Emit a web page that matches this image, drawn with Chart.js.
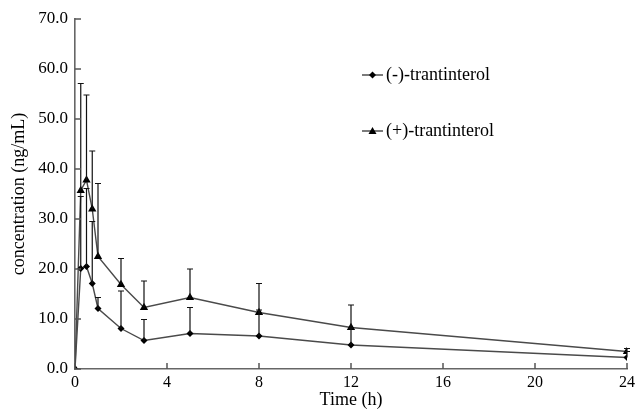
<!DOCTYPE html>
<html lang="en">
<head>
  <meta charset="UTF-8">
  <title>Trantinterol concentration</title>
  <script src="https://cdn.jsdelivr.net/npm/chart.js"></script>
  <style>
    html, body {
      margin: 0;
      padding: 0;
      background: #fff;
    }
    #grafico-container {
      width: 639px;
      height: 412px;
    }
  </style>
</head>
<body>
  <div id="grafico-container">
    <canvas id="grafico"></canvas>
  </div>

  <script>
    // time points (h)
    const times = [0, 0.25, 0.5, 0.75, 1, 2, 3, 5, 8, 12, 24];
    // (-)-trantinterol mean and SD (ng/mL)
    const minusConc = [0, 20.1, 20.5, 17.1, 12.1, 8.1, 5.7, 7.1, 6.6, 4.8, 2.3];
    const minusSd = [0, 14.4, 15.6, 12.4, 2.2, 7.5, 4.2, 5.2, 5.2, 3.4, 1.2];
    // (+)-trantinterol mean and SD (ng/mL)
    const plusConc = [0, 35.7, 37.8, 32.0, 22.5, 16.9, 12.3, 14.3, 11.3, 8.3, 3.5];
    const plusSd = [0, 21.4, 17.0, 11.6, 14.6, 5.2, 5.3, 5.7, 5.8, 4.5, 0.6];

    const legendLabels = ["(-)-trantinterol", "(+)-trantinterol"];

    const serif = "'Liberation Serif', 'DejaVu Serif', serif";

    const pontos = (ys) => times.map((t, i) => ({ x: t, y: ys[i] }));

    // error bars (upper only) drawn with the chart's scales
    const errorBars = {
      id: "errorBars",
      afterDatasetsDraw(chart) {
        const { ctx, scales: { x, y } } = chart;
        const sds = [minusSd, plusSd];
        ctx.save();
        ctx.strokeStyle = "#111";
        ctx.lineWidth = 1.2;
        chart.data.datasets.forEach((ds, d) => {
          ds.data.forEach((p, i) => {
            const sd = sds[d][i];
            if (!sd) return;
            const px = x.getPixelForValue(p.x);
            const y0 = y.getPixelForValue(p.y);
            const y1 = y.getPixelForValue(p.y + sd);
            ctx.beginPath();
            ctx.moveTo(px, y0);
            ctx.lineTo(px, y1);
            ctx.moveTo(px - 3, y1);
            ctx.lineTo(px + 3, y1);
            ctx.stroke();
          });
        });
        ctx.restore();
      }
    };

    // tick marks pointing inwards
    const innerTicks = {
      id: "innerTicks",
      afterDraw(chart) {
        const ctx = chart.ctx;
        const sx = chart.scales.x;
        const sy = chart.scales.y;
        const area = chart.chartArea;
        ctx.save();
        ctx.strokeStyle = "#555";
        ctx.lineWidth = 1.5;
        for (const t of sx.ticks) {
          const px = sx.getPixelForValue(t.value);
          ctx.beginPath();
          ctx.moveTo(px, area.bottom);
          ctx.lineTo(px, area.bottom - 6);
          ctx.stroke();
        }
        for (const t of sy.ticks) {
          const py = sy.getPixelForValue(t.value);
          ctx.beginPath();
          ctx.moveTo(area.left, py);
          ctx.lineTo(area.left + 6, py);
          ctx.stroke();
        }
        ctx.restore();
      }
    };

    // legend inside the plot, upper right
    const innerLegend = {
      id: "innerLegend",
      afterDraw(chart) {
        const { ctx, chartArea } = chart;
        const x0 = chartArea.left + 287;
        const ys = [chartArea.top + 56, chartArea.top + 112];
        ctx.save();
        chart.data.datasets.forEach((ds, i) => {
          const yy = ys[i];
          ctx.strokeStyle = "#333";
          ctx.lineWidth = 1.3;
          ctx.beginPath();
          ctx.moveTo(x0, yy);
          ctx.lineTo(x0 + 21, yy);
          ctx.stroke();
          ctx.fillStyle = "#000";
          ctx.beginPath();
          if (i === 0) {
            ctx.moveTo(x0 + 10.5, yy - 3.5);
            ctx.lineTo(x0 + 14, yy);
            ctx.lineTo(x0 + 10.5, yy + 3.5);
            ctx.lineTo(x0 + 7, yy);
          } else {
            ctx.moveTo(x0 + 10.5, yy - 4);
            ctx.lineTo(x0 + 14.5, yy + 3);
            ctx.lineTo(x0 + 6.5, yy + 3);
          }
          ctx.closePath();
          ctx.fill();
          ctx.fillStyle = "#000";
          ctx.font = "18px " + serif;
          ctx.textBaseline = "middle";
          ctx.fillText(legendLabels[i], x0 + 24, yy);
        });
        ctx.restore();
      }
    };

    new Chart(document.getElementById("grafico"), {
      type: "line",
      data: {
        datasets: [{
          label: legendLabels[0],
          data: pontos(minusConc),
          borderColor: "#4a4a4a",
          borderWidth: 1.4,
          pointStyle: "rectRot",
          pointRadius: 3.5,
          pointBackgroundColor: "#000",
          pointBorderColor: "#000",
          pointBorderWidth: 0,
          fill: false,
          tension: 0
        }, {
          label: legendLabels[1],
          data: pontos(plusConc),
          borderColor: "#4a4a4a",
          borderWidth: 1.4,
          pointStyle: "triangle",
          pointRadius: 4.8,
          pointBackgroundColor: "#000",
          pointBorderColor: "#000",
          pointBorderWidth: 0,
          fill: false,
          tension: 0
        }]
      },
      options: {
        responsive: true,
        maintainAspectRatio: false,
        animation: false,
        layout: { padding: { top: 19, right: 11, left: 8, bottom: 0 } },
        plugins: {
          legend: { display: false },
          tooltip: { enabled: false }
        },
        scales: {
          x: {
            type: "linear",
            min: 0,
            max: 24,
            ticks: {
              stepSize: 4,
              color: "#000",
              padding: 4,
              font: { family: serif, size: 16 }
            },
            grid: { drawOnChartArea: false, drawTicks: false },
            border: { color: "#666", width: 1.6 },
            title: {
              display: true,
              text: "Time (h)",
              color: "#000",
              padding: { top: 0, bottom: 1 },
              font: { family: serif, size: 18 }
            },
            afterFit(s) { s.height = 43; }
          },
          y: {
            min: 0,
            max: 70,
            ticks: {
              stepSize: 10,
              color: "#000",
              padding: 7,
              font: { family: serif, size: 17 },
              callback: v => v.toFixed(1)
            },
            grid: { drawOnChartArea: false, drawTicks: false },
            border: { color: "#666", width: 1.6 },
            title: {
              display: true,
              text: "concentration (ng/mL)",
              color: "#000",
              padding: { top: 0, bottom: 2 },
              font: { family: serif, size: 18 }
            },
            afterFit(s) { s.width = 67; }
          }
        }
      },
      plugins: [errorBars, innerTicks, innerLegend]
    });
  </script>
</body>
</html>
